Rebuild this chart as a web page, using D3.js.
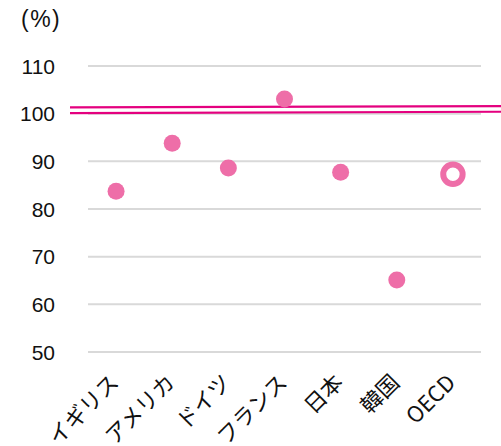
<!DOCTYPE html>
<html>
<head>
<meta charset="utf-8">
<script src="https://cdn.jsdelivr.net/npm/d3@7"></script>
<style>
  body { margin: 0; background: #fff; }
</style>
</head>
<body>
<svg id="chart" width="501" height="446"></svg>
<script>
// data
var countries = ["イギリス", "アメリカ", "ドイツ", "フランス", "日本", "韓国", "OECD"];
var values = [83.7, 93.8, 88.6, 103.1, 87.7, 65.1, 87.3];
var yTicks = [50, 60, 70, 80, 90, 100, 110];
// the double reference line near 100 (left end, right end)
var refLines = [[101.3, 101.6], [100.1, 100.4]];

var margin = {top: 66, right: 20, bottom: 94, left: 88},
    width = 501 - margin.left - margin.right,
    height = 446 - margin.top - margin.bottom;

var svg = d3.select("#chart")
  .append("g")
    .attr("transform", "translate(" + margin.left + "," + margin.top + ")");

var x = d3.scaleBand()
    .domain(countries)
    .range([0, 393]);

var y = d3.scaleLinear()
    .domain([50, 110])
    .range([286, 0]);

// grid lines
svg.append("g")
  .selectAll("line")
  .data(yTicks)
  .join("line")
    .attr("x1", 0)
    .attr("x2", 393)
    .attr("y1", d => y(d))
    .attr("y2", d => y(d))
    .attr("stroke", "#d9d9d9")
    .attr("stroke-width", 2);

// y axis labels
svg.append("g")
  .selectAll("text")
  .data(yTicks)
  .join("text")
    .attr("x", -33)
    .attr("y", d => y(d))
    .attr("dy", "0.36em")
    .attr("text-anchor", "end")
    .style("font-family", "'Liberation Sans', Arial, sans-serif")
    .style("font-size", "21px")
    .attr("fill", "#111")
    .text(d => d);

// unit label
svg.append("text")
    .attr("x", -67)
    .attr("y", -39)
    .style("font-family", "'Liberation Sans', Arial, sans-serif")
    .style("font-size", "23px")
    .style("letter-spacing", "1.5px")
    .attr("fill", "#111")
    .text("(%)");

// reference lines
svg.append("g")
  .selectAll("line")
  .data(refLines)
  .join("line")
    .attr("x1", -18)
    .attr("x2", 413)
    .attr("y1", d => y(d[0]))
    .attr("y2", d => y(d[1]))
    .attr("stroke", "#e4007f")
    .attr("stroke-width", 2.2);

// x labels
svg.append("g")
  .selectAll("text")
  .data(countries)
  .join("text")
    .attr("transform", d => "translate(" + (x(d) + x.bandwidth() / 2 + 4) + "," + 318 + ") rotate(-45)")
    .attr("text-anchor", "end")
    .style("font-family", "'Noto Sans CJK JP', sans-serif")
    .style("font-size", "22px")
    .attr("fill", "#111")
    .text(d => d);

// points
var pts = countries.map((c, i) => ({c: c, v: values[i]}));
svg.append("g")
  .selectAll("circle")
  .data(pts)
  .join("circle")
    .attr("cx", d => x(d.c) + x.bandwidth() / 2)
    .attr("cy", d => y(d.v))
    .attr("r", d => d.c === "OECD" ? 9.7 : 8.5)
    .attr("fill", d => d.c === "OECD" ? "#fff" : "#ee6ea8")
    .attr("stroke", d => d.c === "OECD" ? "#ee6ea8" : "none")
    .attr("stroke-width", 6);
</script>
</body>
</html>
